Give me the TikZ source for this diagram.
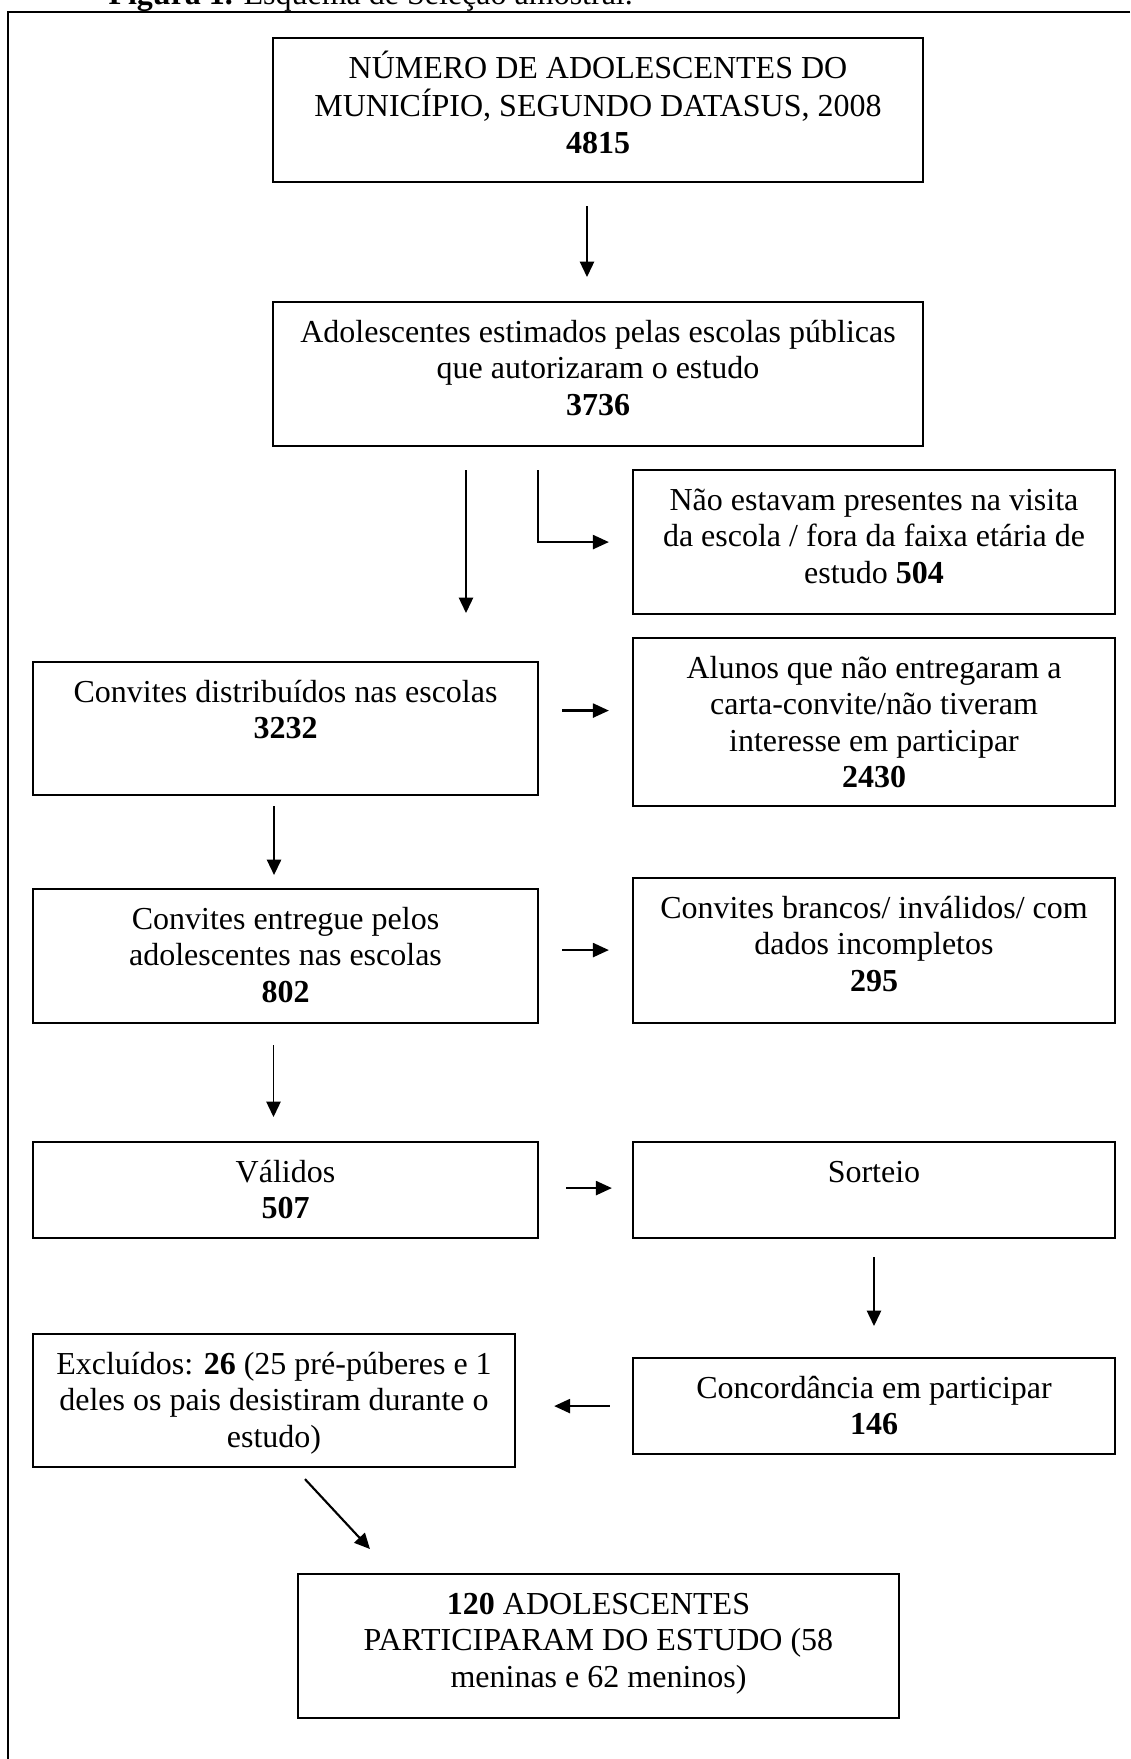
\documentclass[tikz,border=0pt]{standalone}
\usepackage{fontspec}
\setmainfont{Liberation Serif}
\usetikzlibrary{arrows.meta}
\newcommand{\linhas}[1]{\begin{tabular}[t]{@{}c@{}}#1\end{tabular}}

\begin{document}
\begin{tikzpicture}[x=0.375pt,y=-0.375pt,font=\fontsize{12}{13.7}\selectfont]
	\tikzset{caixa/.style={draw,line width=0.8pt,inner sep=0pt,anchor=north,text height=15pt}}
	\tikzset{seta/.style={-{Triangle[length=5.8pt,width=5.4pt]},line width=0.6pt}}
	\tikzset{setagrossa/.style={-{Triangle[length=6pt,width=5.2pt]},line width=1pt}}
	\useasboundingbox (0,0) rectangle (1130,1759);
	% moldura e legenda
	\draw[line width=1pt] (1130,12) -| (8,1759);
	\node[anchor=base west,inner sep=0pt] (legenda) at (108,5) {\textbf{Figura 1.} Esquema de Seleção amostral.};
	% caixas
	\node[caixa,minimum width=243.75pt,text depth=39pt] (numero) at (598,37) {\linhas{NÚMERO DE ADOLESCENTES DO\\MUNICÍPIO, SEGUNDO DATASUS, 2008\\\textbf{4815}}};
	\node[caixa,minimum width=243.75pt,text depth=39pt] (estimados) at (598,301) {\linhas{Adolescentes estimados pelas escolas públicas\\que autorizaram o estudo\\\textbf{3736}}};
	\node[caixa,minimum width=180.75pt,text depth=39pt] (naopres) at (874,469) {\linhas{Não estavam presentes na visita\\da escola / fora da faixa etária de\\estudo \textbf{504}}};
	\node[caixa,minimum width=189.375pt,text depth=34.875pt] (convdist) at (285.5,661) {\linhas{Convites distribuídos nas escolas\\\textbf{3232}}};
	\node[caixa,minimum width=180.75pt,text depth=48pt] (naoentr) at (874,637) {\linhas{Alunos que não entregaram a\\carta-convite/não tiveram\\interesse em participar\\\textbf{2430}}};
	\node[caixa,minimum width=189.375pt,text depth=35.25pt] (conventr) at (285.5,888) {\linhas{Convites entregue pelos\\adolescentes nas escolas\\\textbf{802}}};
	\node[caixa,minimum width=180.75pt,text depth=39.375pt] (brancos) at (874,877) {\linhas{Convites brancos/ inválidos/ com\\dados incompletos\\\textbf{295}}};
	\node[caixa,minimum width=189.375pt,text depth=21pt] (validos) at (285.5,1141) {\linhas{Válidos\\\textbf{507}}};
	\node[caixa,minimum width=180.75pt,text depth=21pt] (sorteio) at (874,1141) {\linhas{Sorteio}};
	\node[caixa,minimum width=180.75pt,text depth=34.875pt] (excluidos) at (274,1333) {\linhas{Excluídos: \textbf{26} (25 pré-púberes e 1\\deles os pais desistiram durante o\\estudo)}};
	\node[caixa,minimum width=180.75pt,text depth=21pt] (concord) at (874,1357) {\linhas{Concordância em participar\\\textbf{146}}};
	\node[caixa,minimum width=225.375pt,text depth=39pt] (final) at (598.5,1573) {\linhas{\textbf{120} ADOLESCENTES\\PARTICIPARAM DO ESTUDO (58\\meninas e 62 meninos)}};
	% setas
	\draw[seta,shorten <=8.625pt,shorten >=9pt] ([xshift=-4.125pt]numero.south) -- ([xshift=-4.125pt]estimados.north);
	\draw[seta,shorten <=8.625pt,shorten >=18pt] ([xshift=-49.5pt]estimados.south) -- ([xshift=-49.5pt]estimados.south |- convdist.north);
	\draw[setagrossa,shorten <=8.625pt,shorten >=8.625pt] ([xshift=-22.5pt]estimados.south) |- (naopres.west);
	\draw[setagrossa,shorten <=8.625pt,shorten >=8.625pt] ([yshift=6.75pt]convdist.east) -- ([yshift=6.75pt]convdist.east -| naoentr.west);
	\draw[seta,shorten <=3.75pt,shorten >=4.875pt] ([xshift=-4.3pt]convdist.south) -- ([xshift=-4.3pt]conventr.north);
	\draw[setagrossa,shorten <=8.625pt,shorten >=8.625pt] ([yshift=2.25pt]conventr.east) -- ([yshift=2.25pt]conventr.east -| brancos.west);
	\draw[seta,shorten <=7.875pt,shorten >=9pt] ([xshift=-4.5pt]conventr.south) -- ([xshift=-4.5pt]validos.north);
	\draw[setagrossa,shorten <=10.125pt,shorten >=7.5pt] ([yshift=0.75pt]validos.east) -- ([yshift=0.75pt]validos.east -| sorteio.west);
	\draw[seta,shorten <=6.75pt,shorten >=11.625pt] (sorteio.south) -- (concord.north);
	\draw[setagrossa,shorten <=8.25pt,shorten >=14.25pt] (concord.west) -- (concord.west -| excluidos.east);
	\draw[seta,line width=0.8pt] ([xshift=11.625pt,yshift=-4.125pt]excluidos.south) -- ([xshift=-85.7pt,yshift=9pt]final.north);
\end{tikzpicture}
\end{document}
